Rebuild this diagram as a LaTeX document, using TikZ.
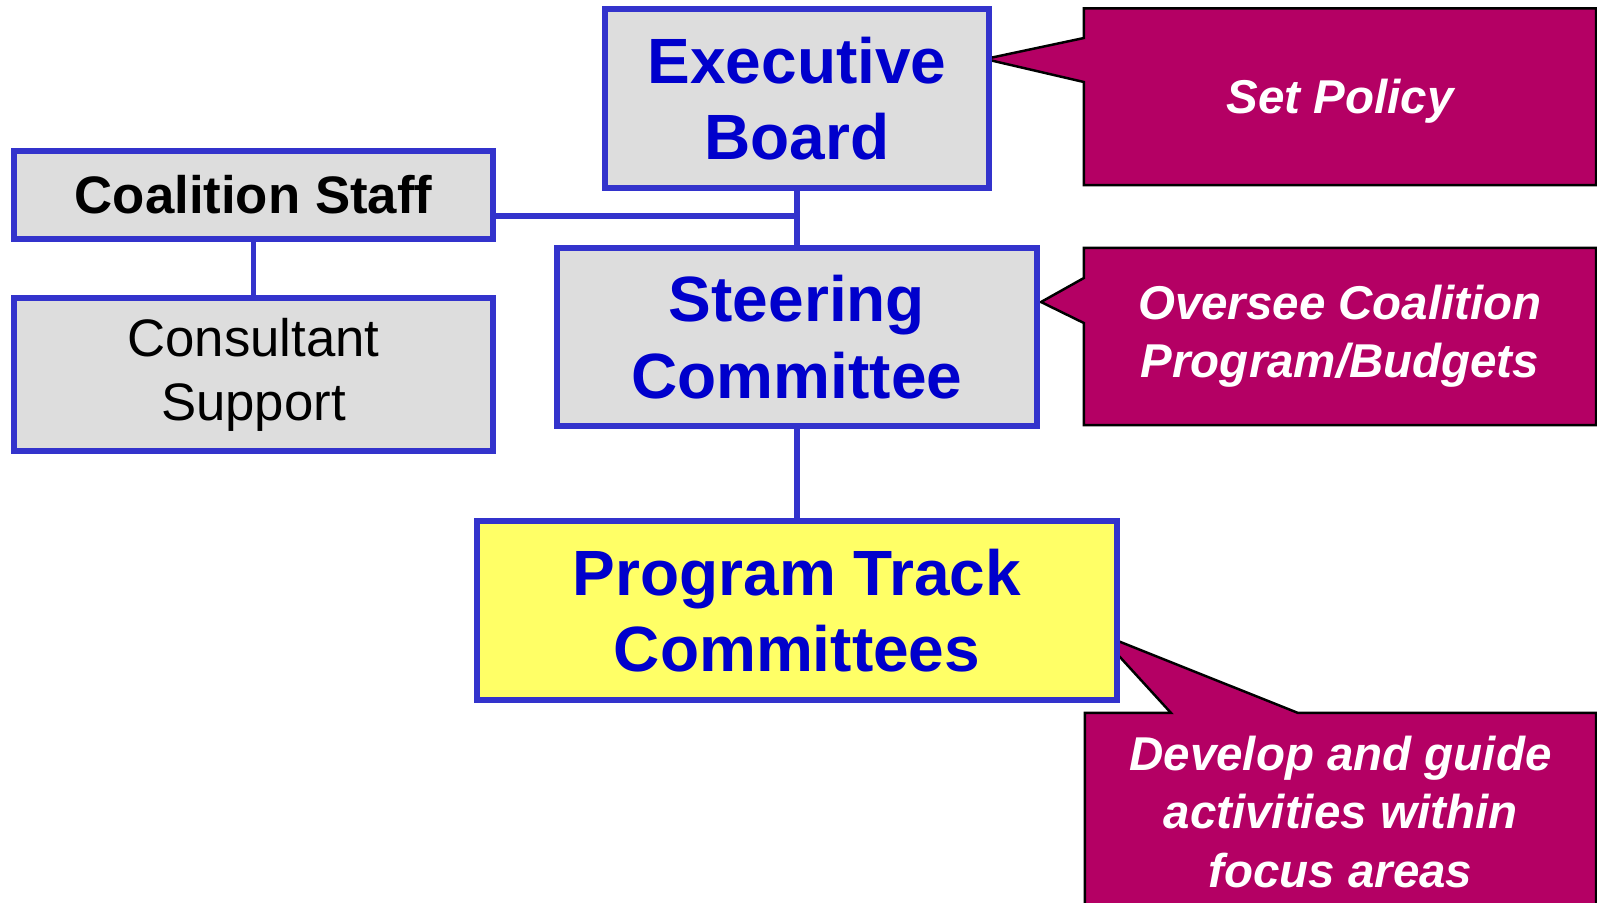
\documentclass[tikz,border=0pt]{standalone}
\usepackage{fontspec}
\setmainfont{Liberation Sans}
\usetikzlibrary{backgrounds}

\definecolor{boxgray}{HTML}{DDDDDD}
\definecolor{boxblue}{HTML}{3333CC}
\definecolor{textblue}{HTML}{0000CC}
\definecolor{boxyellow}{HTML}{FFFF66}
\definecolor{notepink}{HTML}{B40064}

\tikzset{
  notebox/.style={fill=notepink,draw=black,line width=0.7pt,line join=miter}
}

\begin{document}
\begin{tikzpicture}[x=0.01cm,y=-0.01cm]
  \useasboundingbox (0,0) rectangle (1597,902);

  \begin{scope}[every node/.style={draw=boxblue,line width=1.7pt,fill=boxgray,align=center,inner sep=0pt,
      text=textblue,font=\fontsize{18.2}{21.7}\selectfont\bfseries}]
    \node[minimum width=3.84cm,minimum height=1.78cm]  (exec)    at (797,98.5)  {Executive\\Board};
    \node[minimum width=4.8cm,minimum height=1.775cm]  (steer)   at (797,337)   {Steering\\Committee};
    \node[minimum width=6.4cm,minimum height=1.79cm,fill=boxyellow] (track) at (797,610.5) {Program Track\\Committees};
    \node[minimum width=4.79cm,minimum height=0.88cm,text=black,
      font=\fontsize{15}{18}\selectfont\bfseries]      (staff)   at (253.5,195) {Coalition Staff};
    \node[minimum width=4.79cm,minimum height=1.53cm,text=black,
      font=\fontsize{15}{18.2}\selectfont]             (consult) at (253.5,374.5) {Consultant\\Support};
  \end{scope}

  \coordinate (join) at (797,216);

  \begin{scope}[every edge/.style={draw=boxblue,line width=1.7pt}]
    \path (exec)  edge (steer);
    \path (steer) edge (track);
    \path (staff) edge (consult);
    \path (join -| staff.east) edge (join);
  \end{scope}

  \begin{scope}[every node/.style={text=white,align=center,inner sep=0pt,outer sep=0pt,minimum width=5.12cm,
      font=\fontsize{13.5}{16.5}\selectfont\bfseries\itshape}]
    \node[minimum height=1.765cm,text depth=0pt] (policy)  at (1340,96.75)  {Set Policy};
    \node[minimum height=1.77cm]  (oversee) at (1340,336.5)  {Oversee Coalition\\Program/Budgets};
    \node[minimum height=1.98cm,minimum width=5.11cm] (develop) at (1340.5,812) {Develop and guide\\activities within\\focus areas};
  \end{scope}

  \coordinate (policy tip)  at (985,59);
  \coordinate (oversee tip) at (1041,302);
  \coordinate (develop tip) at (1098,633);

  \begin{pgfonlayer}{background}
    \path[notebox] (policy.north west) -- (policy.west |- 0,38) -- (policy tip) -- (policy.west |- 0,82)
      -- (policy.south west) -- (policy.south east) -- (policy.north east) -- cycle;
    \path[notebox] (oversee.north west) -- (oversee.west |- 0,278) -- (oversee tip) -- (oversee.west |- 0,323)
      -- (oversee.south west) -- (oversee.south east) -- (oversee.north east) -- cycle;
    \path[notebox] (develop.north west) -- (develop.north -| 1171,0) -- (develop tip) -- (develop.north -| 1298,0)
      -- (develop.north east) -- (develop.south east) -- (develop.south west) -- cycle;
  \end{pgfonlayer}

\end{tikzpicture}
\end{document}
